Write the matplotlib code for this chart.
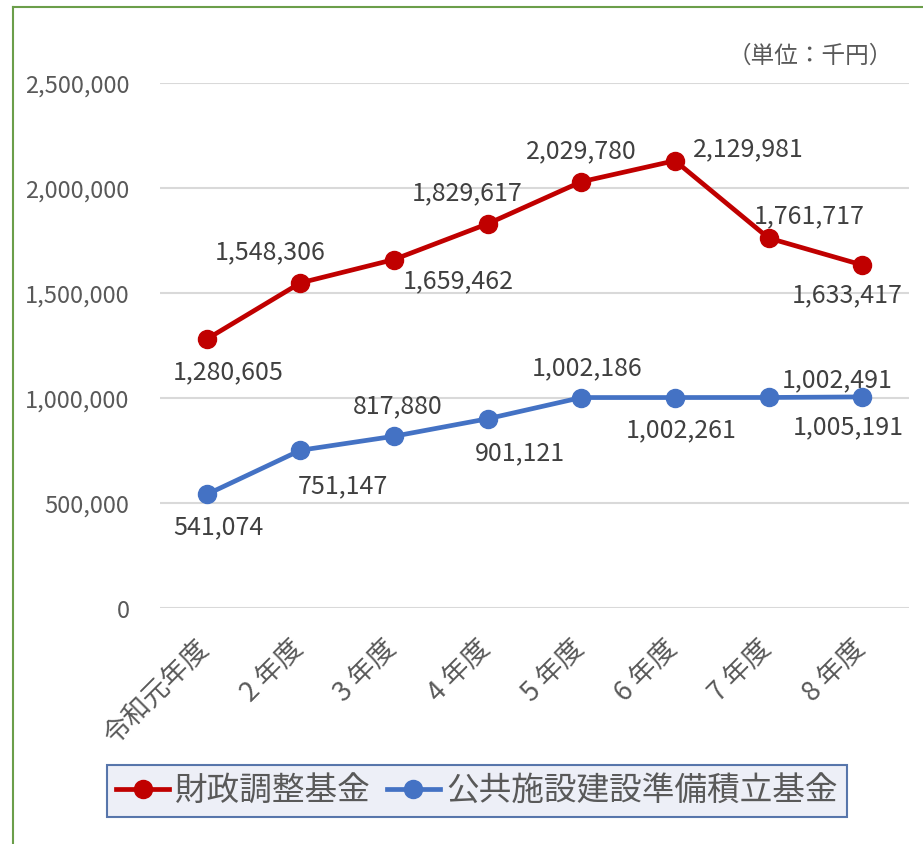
import matplotlib
matplotlib.use("agg")
import matplotlib.pyplot as plt
from matplotlib.lines import Line2D
from matplotlib.ticker import FuncFormatter
from matplotlib.transforms import ScaledTranslation

plt.rcParams['font.family'] = ['Noto Sans CJK JP', 'DejaVu Sans']

years = ['令和元年度', '2 年度', '3 年度', '4 年度', '5 年度', '6 年度', '7 年度', '8 年度']
zaisei = [1280605, 1548306, 1659462, 1829617, 2029780, 2129981, 1761717, 1633417]
koukyou = [541074, 751147, 817880, 901121, 1002186, 1002261, 1002491, 1005191]
name_zaisei = '財政調整基金'
name_koukyou = '公共施設建設準備積立基金'
unit = '（単位：千円）'

# label offsets in pixels (x right, y up), placed by hand like the original
off_red = [(21, -32), (-30, 32), (64, -21), (-21, 32), (0, 31), (73, 12), (41, 23), (-15, -29)]
off_blue = [(12, -32), (42, -35), (4, 31), (32, -34), (6, 30), (6, -32), (69, 18), (-14, -29)]

red = '#C00000'
blue = '#4472C4'
gray = '#595959'

fig = plt.figure(figsize=(9.23, 8.45), dpi=100)
ax = fig.add_axes([160/923, 1-609/845, 749/923, 525/845])

x = list(range(len(years)))
ax.plot(x, zaisei, color=red, lw=3.4, marker='o', ms=13, label=name_zaisei, zorder=3)
ax.plot(x, koukyou, color=blue, lw=3.4, marker='o', ms=13, label=name_koukyou, zorder=3)

for i, v in enumerate(zaisei):
    ax.annotate(f'{v:,}', (i, v), xytext=off_red[i], textcoords='offset pixels',
                ha='center', va='center', fontsize=18, color='#404040')
for i, v in enumerate(koukyou):
    ax.annotate(f'{v:,}', (i, v), xytext=off_blue[i], textcoords='offset pixels',
                ha='center', va='center', fontsize=18, color='#404040')

ax.set_xlim(-0.5, len(years) - 0.5)
ax.set_ylim(0, 2500000)
ax.set_yticks(range(0, 2500001, 500000))
ax.yaxis.set_major_formatter(FuncFormatter(lambda v, p: f'{int(v):,}'))
ax.set_xticks(x)
ax.set_xticklabels(years, rotation=45, ha='right', rotation_mode='default')
ax.tick_params(axis='y', length=0, pad=22, labelsize=17, labelcolor=gray)
ax.tick_params(axis='x', length=0, pad=19, labelsize=19.5, labelcolor=gray)
shift = ScaledTranslation(8/100, 0, fig.dpi_scale_trans)
for lab in ax.get_xticklabels():
    lab.set_transform(lab.get_transform() + shift)
ax.grid(axis='y', color='#D9D9D9', lw=1.5)
ax.set_axisbelow(True)
for s in ax.spines.values():
    s.set_visible(False)

fig.text(893/923, 1-56/845, unit, ha='right', va='center', fontsize=17, color=gray)

leg = fig.legend(loc='center', bbox_to_anchor=(477/923, 1-792/845), ncol=2,
                 fontsize=23.5, frameon=True, fancybox=False, handlelength=1.6,
                 columnspacing=0.5, handletextpad=0.2, borderpad=0.3)
leg.get_frame().set_facecolor('#E9EBF5')
leg.get_frame().set_edgecolor('#2F5597')
leg.get_frame().set_linewidth(1.5)
for t in leg.get_texts():
    t.set_color(gray)

# outer border (left and top only visible in the crop)
fig.add_artist(Line2D([13/923, 13/923], [0, 1-8/845], color='#6B9E4A', lw=1.5))
fig.add_artist(Line2D([13/923, 1], [1-8/845, 1-8/845], color='#6B9E4A', lw=1.5))

plt.savefig('out.png', dpi=100)
plt.close()
